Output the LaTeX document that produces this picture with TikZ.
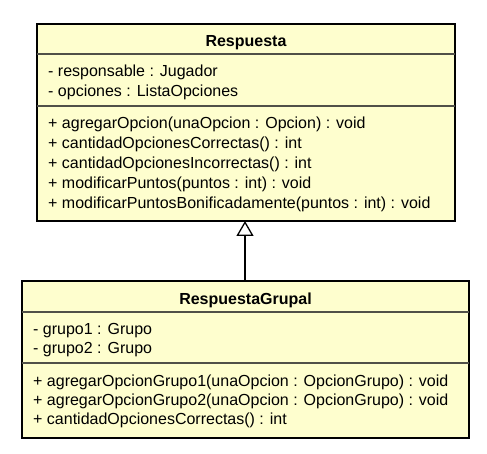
\documentclass[tikz,border=0pt]{standalone}
\usepackage{fontspec}
\setmainfont{Liberation Sans}
\usetikzlibrary{arrows.meta}
\definecolor{classfill}{HTML}{FEFECE}
\definecolor{sepcol}{HTML}{505048}
\tikzset{
  classbox/.style={draw=black, line width=2.5pt, fill=classfill, rectangle, inner sep=0pt, outer sep=0pt},
  sepline/.style={draw=sepcol, line width=1.1pt},
  member/.style={anchor=base west, inner sep=0pt, font=\fontsize{16}{19}\selectfont},
  title/.style={anchor=base, inner sep=0pt, font=\fontsize{16}{19}\selectfont\bfseries},
  inherit/.style={draw=black, line width=1.3pt, -{Triangle[open, width=17pt, length=15pt, line width=1.3pt]}}
}
\begin{document}
\begin{tikzpicture}[x=1pt,y=-1pt]
\useasboundingbox (0,0) rectangle (487,454);
% upper class
\node[classbox, minimum width=418pt, minimum height=197pt] (resp) at (246,122.5) {};
\draw[sepline] (resp.west |- 0,54) -- (resp.east |- 0,54);
\draw[sepline] (resp.west |- 0,106) -- (resp.east |- 0,106);
\node[title] (respT) at (246,47) {Respuesta};
\node[member] (ra1) at (48,77) {- responsable : Jugador};
\node[member] (ra2) at (48,97) {- opciones : ListaOpciones};
\node[member] (rm1) at (48,129) {+ agregarOpcion(unaOpcion : Opcion) : void};
\node[member] (rm2) at (48,149) {+ cantidadOpcionesCorrectas() : int};
\node[member] (rm3) at (48,169) {+ cantidadOpcionesIncorrectas() : int};
\node[member] (rm4) at (48,189) {+ modificarPuntos(puntos : int) : void};
\node[member] (rm5) at (48,209) {+ modificarPuntosBonificadamente(puntos : int) : void};
% lower class
\node[classbox, minimum width=447pt, minimum height=157pt] (grup) at (245.5,359.5) {};
\draw[sepline] (grup.west |- 0,312) -- (grup.east |- 0,312);
\draw[sepline] (grup.west |- 0,363) -- (grup.east |- 0,363);
\node[title] (grupT) at (245.5,304) {RespuestaGrupal};
\node[member] (ga1) at (33,334) {- grupo1 : Grupo};
\node[member] (ga2) at (33,353) {- grupo2 : Grupo};
\node[member] (gm1) at (33,386) {+ agregarOpcionGrupo1(unaOpcion : OpcionGrupo) : void};
\node[member] (gm2) at (33,405) {+ agregarOpcionGrupo2(unaOpcion : OpcionGrupo) : void};
\node[member] (gm3) at (33,424) {+ cantidadOpcionesCorrectas() : int};
% inheritance
\draw[inherit] (grup.north -| 245,0) -- (resp.south -| 245,0);
\end{tikzpicture}
\end{document}
